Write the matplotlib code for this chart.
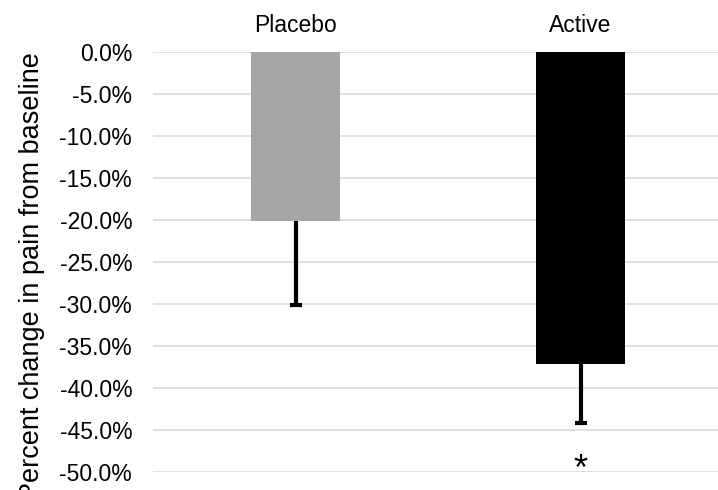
import matplotlib.pyplot as plt
from matplotlib.ticker import FuncFormatter, MultipleLocator

plt.rcParams['font.family'] = ['Liberation Sans', 'DejaVu Sans']

groups = ["Placebo", "Active"]
change = [-20.1, -37.1]
err_low = [10.0, 7.1]
bar_colors = ["#a6a6a6", "#000000"]
star_y = -51.0

fig = plt.figure(figsize=(7.18, 4.9), dpi=100)
ax = fig.add_axes([153 / 718, 18 / 490, 570 / 718, 420 / 490])

x = list(range(len(groups)))
ax.bar(x, change, width=0.31, color=bar_colors, zorder=2)

# one-sided (downward) error bars with a cap only at the lower end
low_ends = [c - e for c, e in zip(change, err_low)]
ax.vlines(x, low_ends, change, colors="black", linewidth=3, zorder=3)
ax.plot(x, low_ends, linestyle="none", marker="_", markersize=8.6,
        markeredgewidth=3, color="black", zorder=3)

ax.text(1, star_y, "*", ha="center", va="baseline", fontsize=26)

ax.set_xlim(-0.5, 1.5)
ax.set_ylim(-50, 0)
ax.yaxis.set_major_locator(MultipleLocator(5))
ax.yaxis.set_major_formatter(FuncFormatter(lambda v, p: f"{v:.1f}%"))
ax.grid(axis="y", color="#d9d9d9", linewidth=1.2, zorder=0)
ax.set_axisbelow(True)

ax.xaxis.tick_top()
ax.set_xticks(x)
ax.set_xticklabels(groups)
ax.tick_params(axis="x", length=0, pad=11, labelsize=16.5)
ax.tick_params(axis="y", length=0, pad=15, labelsize=16.5)
for s in ax.spines.values():
    s.set_visible(False)

ax.set_ylabel("Percent change in pain from baseline", fontsize=19.5)
ax.yaxis.set_label_coords(-0.189, 0.467)

fig.savefig("out.png", dpi=100)
